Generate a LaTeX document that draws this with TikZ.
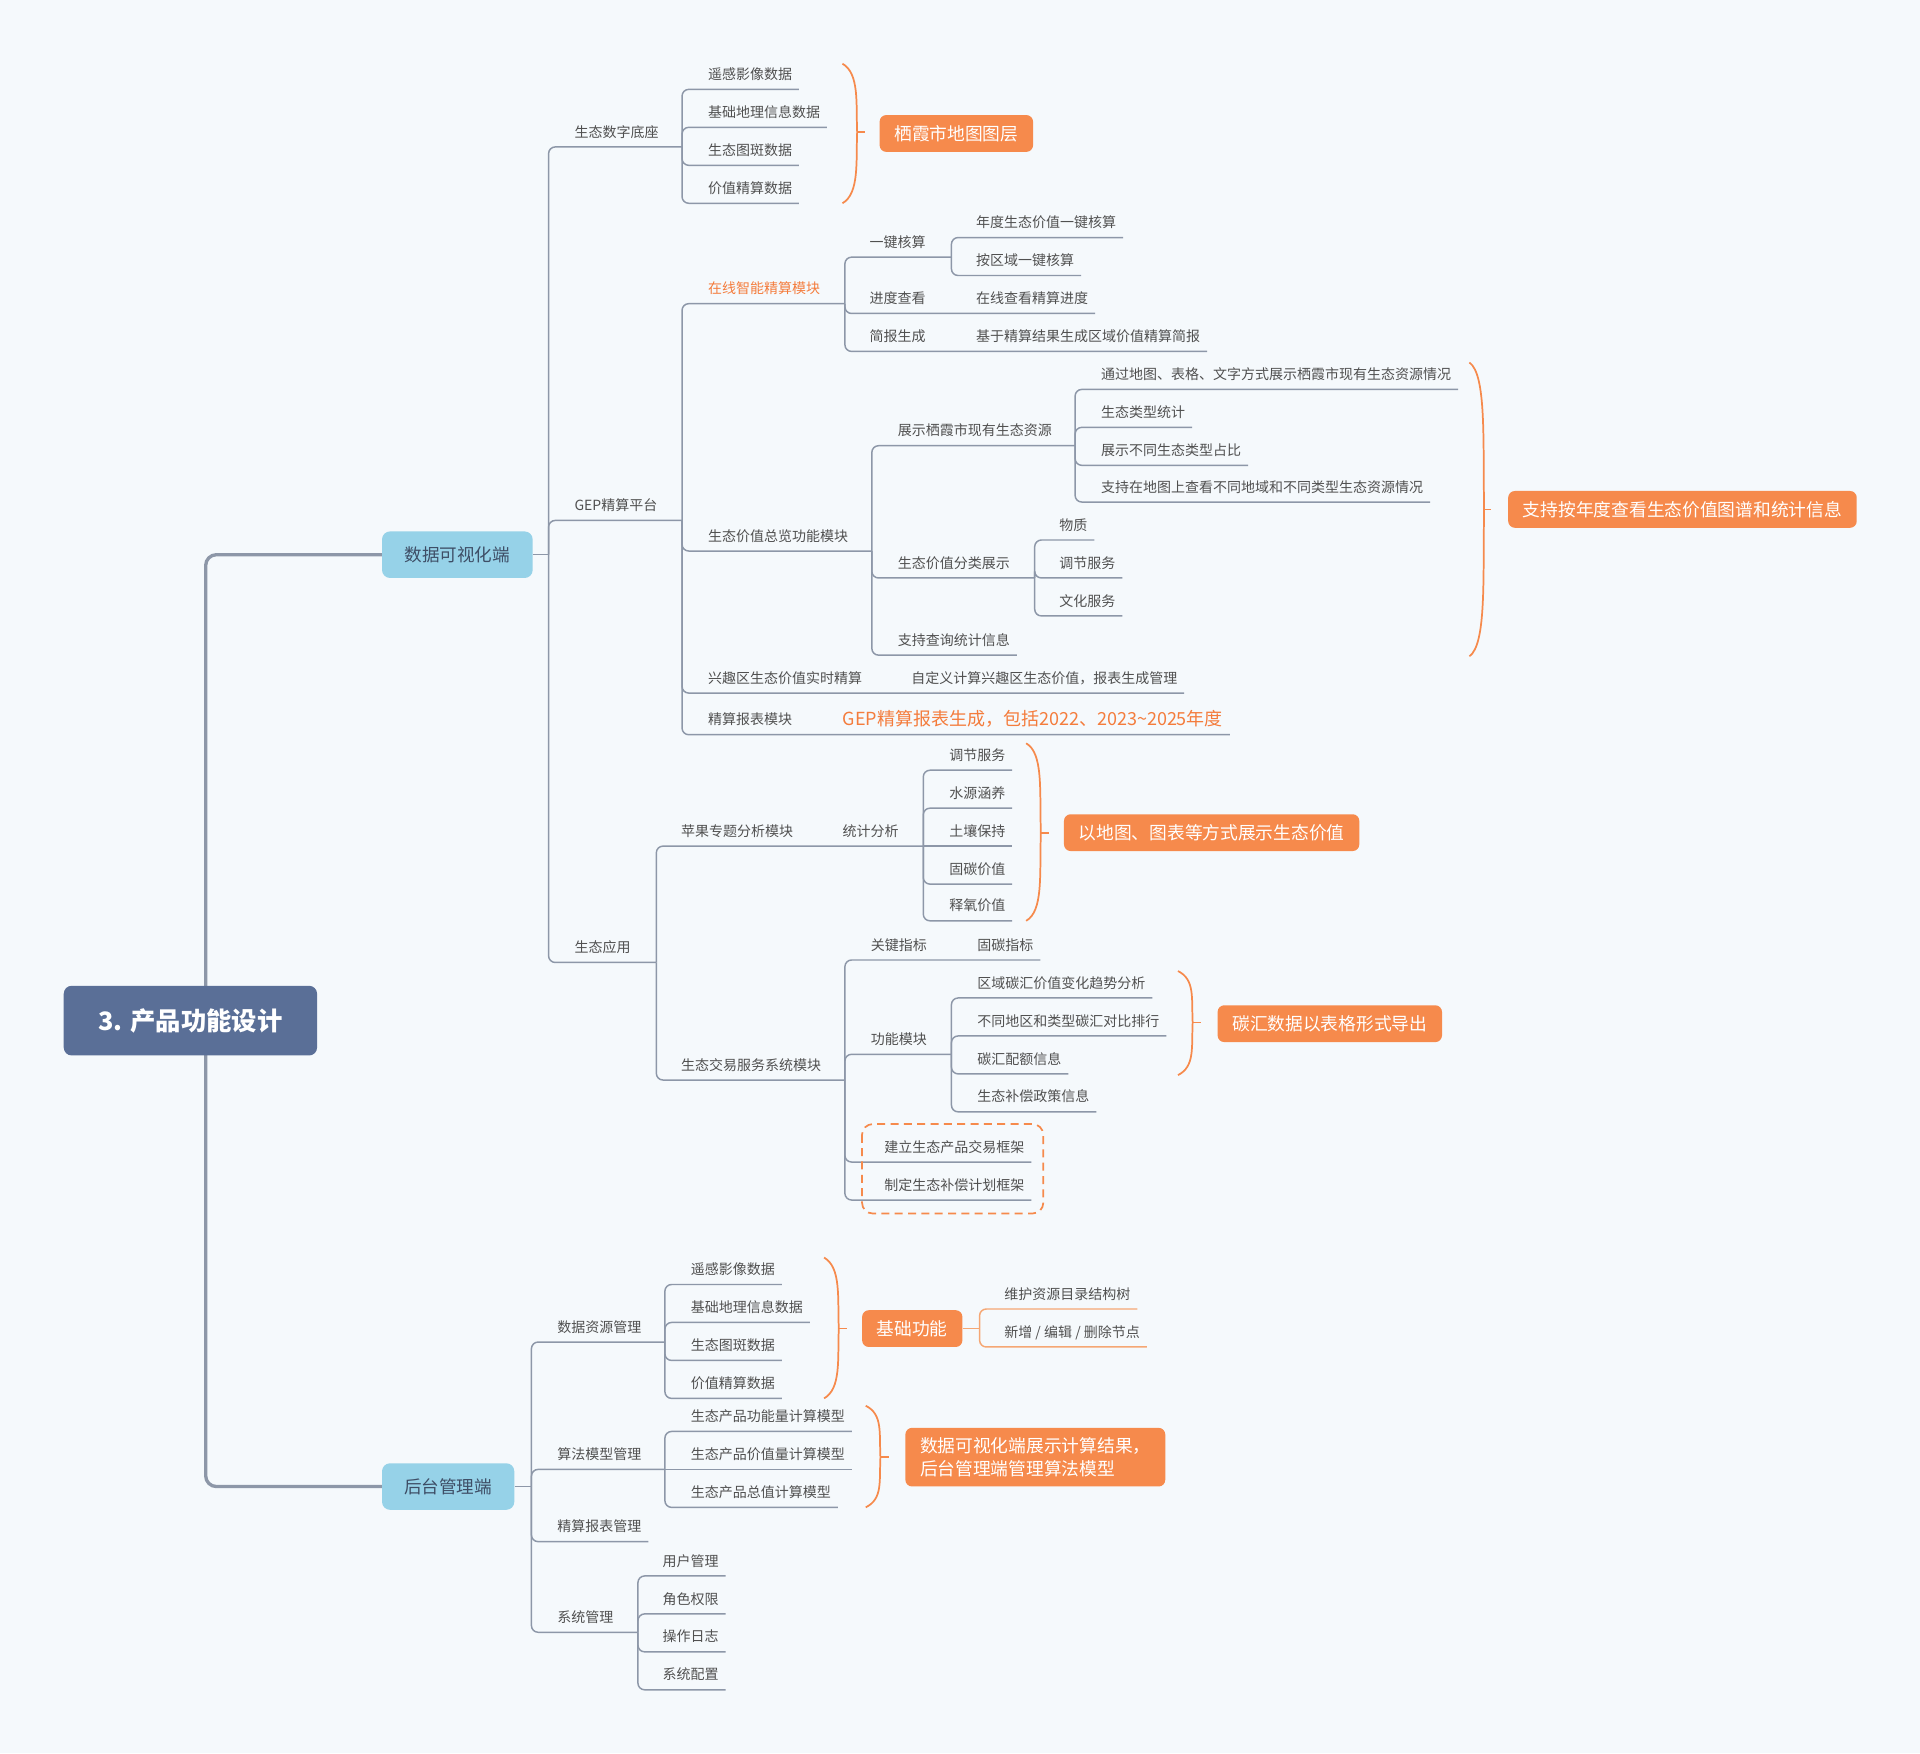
\documentclass[tikz,border=0pt]{standalone}
\usepackage{fontspec}
\setmainfont{Noto Sans CJK SC}
\usepackage{xcolor}
\definecolor{bgcol}{HTML}{F5F9FC}
\definecolor{linegray}{HTML}{8D97A8}
\definecolor{textgray}{HTML}{505050}
\definecolor{rootfill}{HTML}{5A6F97}
\definecolor{visfill}{HTML}{96D2E8}
\definecolor{vistext}{HTML}{3E4E66}
\definecolor{callorange}{HTML}{F68A4C}
\definecolor{textorange}{HTML}{F47C3C}
\definecolor{lightorange}{HTML}{F5A774}
\usetikzlibrary{positioning}

\tikzset{
  topic/.style={anchor=south west, inner sep=0pt, text depth=7.2pt, text=textgray, font=\fontsize{10.5}{12}\selectfont},
  link/.style={draw=linegray, line width=1.1pt, rounded corners=5pt},
  olink/.style={draw=lightorange, line width=1.1pt, rounded corners=5pt},
  mainline/.style={draw=linegray, line width=2.5pt, rounded corners=8pt},
  callout/.style={fill=callorange, text=white, rounded corners=5pt, inner xsep=11pt, minimum height=27.6pt, font=\fontsize{13.3}{17}\selectfont},
  bracket/.style={draw=callorange, line width=1.3pt},
  levelone/.style={fill=visfill, text=vistext, rounded corners=6pt, minimum height=34.9pt, font=\fontsize{13.2}{16}\selectfont}
}

\begin{document}
\begin{tikzpicture}[x=0.9184pt, y=-0.9184pt]
\fill[bgcol] (0,0) rectangle (1568,1432);
\useasboundingbox (0,0) rectangle (1568,1432);

% level one
\node[levelone, minimum width=113pt] (vis) at (373.5,453) {数据可视化端};
\node[levelone, minimum width=99.2pt] (bg) at (366,1214) {后台管理端};

% 数据可视化端
\coordinate (vis-s) at (448,453);
\coordinate (sz-s) at (557,120);
\coordinate (gep-s) at (557,425);
\coordinate (yy-s) at (536,786);
\node[topic] (sz) at (469,120) {生态数字底座};
\node[topic] (gep) at (469,425) {GEP精算平台};
\node[topic] (yy) at (469,786) {生态应用};
\draw[link] (vis.east) -- (vis-s);
\draw[link] (vis-s) |- (sz-s);
\draw[link] (vis-s) |- (gep-s);
\draw[link] (vis-s) |- (yy-s);

% 生态数字底座
\node[topic] (yg1) at (578,73) {遥感影像数据};
\node[topic] (jc1) at (578,104) {基础地理信息数据};
\node[topic] (tb1) at (578,135) {生态图斑数据};
\node[topic] (jz1) at (578,166) {价值精算数据};
\draw[link] (sz-s) |- ([xshift=5pt]yg1.south east);
\draw[link] (sz-s) |- ([xshift=5pt]jc1.south east);
\draw[link] (sz-s) |- ([xshift=5pt]tb1.south east);
\draw[link] (sz-s) |- ([xshift=5pt]jz1.south east);
\draw[bracket] (688,52) .. controls (702,60) and (699,85) .. (700,108) .. controls (699,131) and (702,158) .. (688,166);
\draw[bracket] (700,108) -- (706,108);
\node[callout] (map) at (781,109) {栖霞市地图图层};

% GEP精算平台
\coordinate (zx-s) at (690,248);
\coordinate (zl-s) at (712,450);
\node[topic, text=textorange] (zx) at (578,248) {在线智能精算模块};
\node[topic] (zl) at (578,450) {生态价值总览功能模块};
\node[topic] (xq) at (578,566) {兴趣区生态价值实时精算};
\node[topic] (bb) at (578,600) {精算报表模块};
\node[topic] (xqc) at (744,566) {自定义计算兴趣区生态价值，报表生成管理};
\node[topic, text=textorange, font=\fontsize{13.5}{16}\selectfont, text depth=7pt] (bbc) at (688,600) {GEP精算报表生成，包括2022、2023\textasciitilde2025年度};
\draw[link] (gep-s) |- (zx-s);
\draw[link] (gep-s) |- (zl-s);
\draw[link] (gep-s) |- ([xshift=5pt]xqc.south east);
\draw[link] (gep-s) |- ([xshift=5pt]bbc.south east);

% 在线智能精算模块
\coordinate (yj-s) at (777,210);
\node[topic] (yj) at (710,210) {一键核算};
\node[topic] (jd) at (710,256) {进度查看};
\node[topic] (jb) at (710,287) {简报生成};
\node[topic] (nd) at (797,194) {年度生态价值一键核算};
\node[topic] (aq) at (797,225) {按区域一键核算};
\node[topic] (jdc) at (797,256) {在线查看精算进度};
\node[topic] (jbc) at (797,287) {基于精算结果生成区域价值精算简报};
\draw[link] (zx-s) |- (yj-s);
\draw[link] (zx-s) |- ([xshift=5pt]jdc.south east);
\draw[link] (zx-s) |- ([xshift=5pt]jbc.south east);
\draw[link] (yj-s) |- ([xshift=5pt]nd.south east);
\draw[link] (yj-s) |- ([xshift=5pt]aq.south east);

% 生态价值总览功能模块
\coordinate (zs-s) at (878,364);
\coordinate (fl-s) at (845,472);
\node[topic] (zs) at (733,364) {展示栖霞市现有生态资源};
\node[topic] (fl) at (733,472) {生态价值分类展示};
\node[topic] (cx) at (733,535) {支持查询统计信息};
\draw[link] (zl-s) |- (zs-s);
\draw[link] (zl-s) |- (fl-s);
\draw[link] (zl-s) |- ([xshift=5pt]cx.south east);
\node[topic] (tg) at (899,318) {通过地图、表格、文字方式展示栖霞市现有生态资源情况};
\node[topic] (lx) at (899,349) {生态类型统计};
\node[topic] (zb) at (899,380) {展示不同生态类型占比};
\node[topic] (dt) at (899,410) {支持在地图上查看不同地域和不同类型生态资源情况};
\draw[link] (zs-s) |- ([xshift=5pt]tg.south east);
\draw[link] (zs-s) |- ([xshift=5pt]lx.south east);
\draw[link] (zs-s) |- ([xshift=5pt]zb.south east);
\draw[link] (zs-s) |- ([xshift=5pt]dt.south east);
\node[topic] (wz) at (865,441) {物质};
\node[topic] (tj) at (865,472) {调节服务};
\node[topic] (wh) at (865,503) {文化服务};
\draw[link] (fl-s) |- ([xshift=5pt]wz.south east);
\draw[link] (fl-s) |- ([xshift=5pt]tj.south east);
\draw[link] (fl-s) |- ([xshift=5pt]wh.south east);
\draw[bracket] (1200,296) .. controls (1214,306) and (1211,360) .. (1212,416) .. controls (1211,472) and (1214,526) .. (1200,536);
\draw[bracket] (1212,416) -- (1218,416);
\node[callout] (tp) at (1374,416) {支持按年度查看生态价值图谱和统计信息};

% 生态应用
\coordinate (tjfx-s) at (754,691);
\coordinate (jy-s) at (690,882);
\node[topic] (pg) at (556,691) {苹果专题分析模块};
\node[topic] (jy) at (556,882) {生态交易服务系统模块};
\node[topic] (tjfx) at (688,691) {统计分析};
\draw[link] (yy-s) |- (tjfx-s);
\draw[link] (yy-s) |- (jy-s);
\node[topic] (pg1) at (775,629) {调节服务};
\node[topic] (pg2) at (775,660) {水源涵养};
\node[topic] (pg3) at (775,691) {土壤保持};
\node[topic] (pg4) at (775,722) {固碳价值};
\node[topic] (pg5) at (775,752) {释氧价值};
\draw[link] (tjfx-s) |- ([xshift=5pt]pg1.south east);
\draw[link] (tjfx-s) |- ([xshift=5pt]pg2.south east);
\draw[link] (tjfx-s) -- ([xshift=5pt]pg3.south east);
\draw[link] (tjfx-s) |- ([xshift=5pt]pg4.south east);
\draw[link] (tjfx-s) |- ([xshift=5pt]pg5.south east);
\draw[bracket] (838,607) .. controls (852,615) and (849,645) .. (850,680) .. controls (849,715) and (852,744) .. (838,752);
\draw[bracket] (850,680) -- (857,680);
\node[callout] (dtbz) at (989.5,680) {以地图、图表等方式展示生态价值};

% 生态交易服务系统模块
\coordinate (gn-s) at (777,861);
\node[topic] (gjzb) at (711,784) {关键指标};
\node[topic] (gtzb) at (798,784) {固碳指标};
\node[topic] (gn) at (711,861) {功能模块};
\node[topic] (jl) at (722,949) {建立生态产品交易框架};
\node[topic] (zd) at (722,980) {制定生态补偿计划框架};
\draw[link] (jy-s) |- ([xshift=5pt]gtzb.south east);
\draw[link] (jy-s) |- (gn-s);
\draw[link] (jy-s) |- ([xshift=5pt]jl.south east);
\draw[link] (jy-s) |- ([xshift=5pt]zd.south east);
\node[topic] (gn1) at (798,815) {区域碳汇价值变化趋势分析};
\node[topic] (gn2) at (798,846) {不同地区和类型碳汇对比排行};
\node[topic] (gn3) at (798,877) {碳汇配额信息};
\node[topic] (gn4) at (798,908) {生态补偿政策信息};
\draw[link] (gn-s) |- ([xshift=5pt]gn1.south east);
\draw[link] (gn-s) |- ([xshift=5pt]gn2.south east);
\draw[link] (gn-s) |- ([xshift=5pt]gn3.south east);
\draw[link] (gn-s) |- ([xshift=5pt]gn4.south east);
\draw[bracket] (962,793) .. controls (976,800) and (973,815) .. (974,835) .. controls (973,855) and (976,871) .. (962,878);
\draw[bracket] (974,835) -- (981,835);
\node[callout] (thdc) at (1086,836) {碳汇数据以表格形式导出};
\draw[callorange, line width=1.3pt, dashed, dash pattern=on 6pt off 4pt, rounded corners=8pt] (704,918) rectangle (852,991);

% 后台管理端
\coordinate (bg-s) at (434,1214);
\coordinate (zy-s) at (543,1096);
\coordinate (sf-s) at (543,1200);
\coordinate (xt-s) at (521,1333);
\node[topic] (zy) at (455,1096) {数据资源管理};
\node[topic] (sf) at (455,1200) {算法模型管理};
\node[topic] (jsbb) at (455,1259) {精算报表管理};
\node[topic] (xt) at (455,1333) {系统管理};
\draw[link] (bg.east) -- (bg-s);
\draw[link] (bg-s) |- (zy-s);
\draw[link] (bg-s) |- (sf-s);
\draw[link] (bg-s) |- ([xshift=5pt]jsbb.south east);
\draw[link] (bg-s) |- (xt-s);

% 数据资源管理
\node[topic] (yg2) at (564,1049) {遥感影像数据};
\node[topic] (jc2) at (564,1080) {基础地理信息数据};
\node[topic] (tb2) at (564,1111) {生态图斑数据};
\node[topic] (jz2) at (564,1142) {价值精算数据};
\draw[link] (zy-s) |- ([xshift=5pt]yg2.south east);
\draw[link] (zy-s) |- ([xshift=5pt]jc2.south east);
\draw[link] (zy-s) |- ([xshift=5pt]tb2.south east);
\draw[link] (zy-s) |- ([xshift=5pt]jz2.south east);
\draw[bracket] (673,1027) .. controls (687,1035) and (684,1060) .. (685,1085) .. controls (684,1110) and (687,1134) .. (673,1142);
\draw[bracket] (685,1085) -- (692,1085);
\node[callout] (jcgn) at (745,1085) {基础功能};
\coordinate (jcgn-s) at (800,1085);
\node[topic] (whml) at (820,1069) {维护资源目录结构树};
\node[topic] (xz) at (820,1100) {新增 / 编辑 / 删除节点};
\draw[olink] (jcgn.east) -- (jcgn-s);
\draw[olink] (jcgn-s) |- ([xshift=5pt]whml.south east);
\draw[olink] (jcgn-s) |- ([xshift=5pt]xz.south east);

% 算法模型管理
\node[topic] (mx1) at (564,1169) {生态产品功能量计算模型};
\node[topic] (mx2) at (564,1200) {生态产品价值量计算模型};
\node[topic] (mx3) at (564,1231) {生态产品总值计算模型};
\draw[link] (sf-s) |- ([xshift=5pt]mx1.south east);
\draw[link] (sf-s) -- ([xshift=5pt]mx2.south east);
\draw[link] (sf-s) |- ([xshift=5pt]mx3.south east);
\draw[bracket] (707,1148) .. controls (721,1155) and (718,1170) .. (719,1190) .. controls (718,1210) and (721,1224) .. (707,1231);
\draw[bracket] (719,1190) -- (726,1190);
\node[callout, align=left, minimum height=44pt] (jg) at (845.5,1190) {数据可视化端展示计算结果，\\后台管理端管理算法模型};

% 系统管理
\node[topic] (xt1) at (541,1287) {用户管理};
\node[topic] (xt2) at (541,1318) {角色权限};
\node[topic] (xt3) at (541,1349) {操作日志};
\node[topic] (xt4) at (541,1380) {系统配置};
\draw[link] (xt-s) |- ([xshift=5pt]xt1.south east);
\draw[link] (xt-s) |- ([xshift=5pt]xt2.south east);
\draw[link] (xt-s) |- ([xshift=5pt]xt3.south east);
\draw[link] (xt-s) |- ([xshift=5pt]xt4.south east);

% root
\coordinate (root-s) at (168,833);
\draw[mainline] (root-s) |- (vis.west);
\draw[mainline] (root-s) |- (bg.west);
\node[fill=rootfill, text=white, rounded corners=6pt, minimum width=190pt, minimum height=52.3pt, font=\fontsize{19}{22}\bfseries] (root) at (155.5,833.5) {3. 产品功能设计};
\end{tikzpicture}
\end{document}
